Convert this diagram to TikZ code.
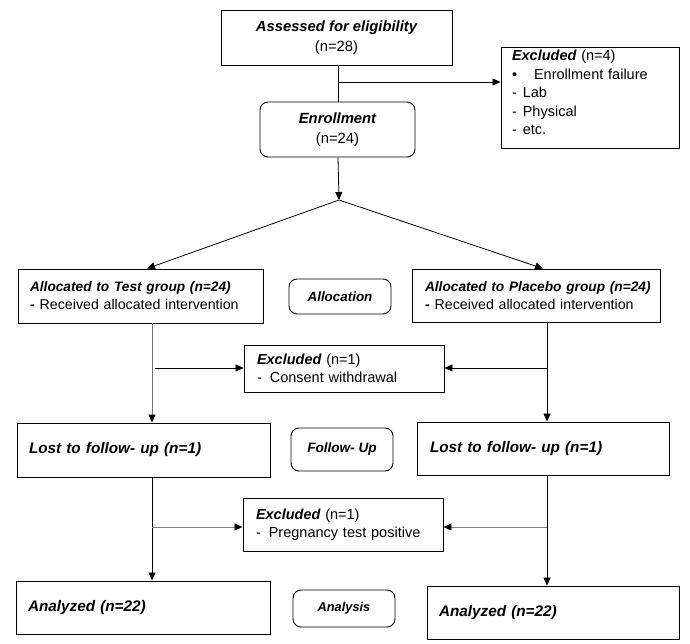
\documentclass[tikz,border=0pt]{standalone}
\usepackage{fontspec}
\setmainfont{Liberation Sans}
\usetikzlibrary{arrows.meta,calc}
\newcommand\fsz[2]{\fontsize{#1}{#2}\selectfont}
\newcommand\bfit{\bfseries\itshape}
\begin{document}
\begin{tikzpicture}[x=1pt,y=-1pt,
  lbox/.style={draw=black, line width=0.9pt, inner xsep=12pt, inner ysep=0pt, align=left},
  cbox/.style={draw=black, line width=0.9pt, inner sep=0pt, align=center},
  rbox/.style={cbox, rounded corners=8pt},
  ln/.style={line width=0.8pt, black},
  arr/.style={ln, -{Triangle[length=8pt,width=7pt]}},
  garr/.style={line width=0.8pt, draw=black!50, -{Triangle[length=8pt,width=7pt,color=black]}},
  garrv/.style={line width=0.8pt, draw=black!55, -{Triangle[length=8pt,width=7pt,color=black]}}
]
\useasboundingbox (0,0) rectangle (690,644);
\fill[white] (0,0) rectangle (690,644);

% top
\node[cbox, minimum width=231pt, minimum height=55pt, font=\fsz{14.8pt}{19.5pt}] (assess) at (336.5,37.5)
  {{\bfit Assessed for eligibility}\\ (n=28)};
\node[lbox, inner xsep=11pt, text width=156pt, minimum height=101pt, font=\fsz{14.5pt}{18.6pt}] (ex1) at (590,97.5)
  {\raisebox{5pt}[\height][\depth]{\parbox{156pt}{\raggedright
   {\bfit Excluded} (n=4)\\
   •\hspace{17pt}Enrollment failure\\
   -\hspace{6pt}Lab\\
   -\hspace{6pt}Physical\\
   -\hspace{6pt}etc.}}};
\node[rbox, minimum width=155pt, minimum height=55pt, font=\fsz{14.8pt}{19.5pt}] (enroll) at (337.5,129.5)
  {{\bfit Enrollment}\\ (n=24)};

% allocation row
\node[lbox, text width=221pt, minimum height=54pt, font=\fsz{14.2pt}{18pt}] (test) at (140.5,296)
  {\mbox{\bfit\fsz{13.7pt}{18pt}Allocated to Test group (n=24)}\\
   \textbf{-}\hspace{5pt}Received allocated intervention};
\node[rbox, minimum width=102pt, minimum height=35pt, font=\fsz{13.4pt}{16pt}\bfit] (alloc) at (340,296.5)
  {Allocation};
\node[lbox, inner xsep=13pt, text width=222pt, minimum height=53pt, font=\fsz{14.2pt}{18pt}] (plac) at (536,295.5)
  {\mbox{\bfit\fsz{13.7pt}{18pt}Allocated to Placebo group (n=24)}\\
   \textbf{-}\hspace{5pt}Received allocated intervention};

\node[lbox, inner xsep=13pt, text width=174pt, minimum height=47pt, font=\fsz{14.5pt}{18pt}] (ex2) at (344,368.5)
  {{\bfit Excluded} (n=1)\\
   -\hspace{8pt}Consent withdrawal};

% follow-up row
\node[lbox, text width=229pt, minimum height=54pt, font=\fsz{15.3pt}{18pt}\bfit] (lost1) at (143.5,450)
  {Lost to follow- up (n=1)};
\node[rbox, minimum width=102pt, minimum height=43pt, font=\fsz{13.6pt}{16pt}\bfit] (fu) at (342,449.5)
  {\raisebox{3pt}{Follow- Up}};
\node[lbox, inner xsep=13pt, text width=226pt, minimum height=53pt, font=\fsz{15.3pt}{18pt}\bfit] (lost2) at (543,448.5)
  {Lost to follow- up (n=1)};

\node[lbox, inner xsep=13pt, text width=174pt, minimum height=53pt, font=\fsz{14.5pt}{18.5pt}] (ex3) at (343,524.5)
  {{\bfit Excluded} (n=1)\\
   -\hspace{8pt}Pregnancy test positive};

% analysis row
\node[lbox, text width=230pt, minimum height=53pt, font=\fsz{15.3pt}{18pt}\bfit] (an1) at (143,607.5)
  {Analyzed (n=22)};
\node[rbox, minimum width=102pt, minimum height=37pt, font=\fsz{12.8pt}{16pt}\bfit] (anl) at (344,608.5)
  {Analysis};
\node[lbox, text width=228pt, minimum height=53pt, font=\fsz{15.3pt}{18pt}\bfit] (an2) at (553,612.5)
  {Analyzed (n=22)};

% helper coordinates
\coordinate (C) at (338,0);
\coordinate (j1) at (338,82);
\coordinate (split) at (339,200);
\coordinate (tl) at (147,0);
\coordinate (tr) at (543,0);
\coordinate (L) at (152,0);
\coordinate (R) at (547,0);
\coordinate (h1) at (155,368);
\coordinate (h2) at (547,368);
\coordinate (h3) at (152,527);
\coordinate (h4) at (547,527);

% connectors
\draw[ln] (assess.south -| C) -- (enroll.north -| C);
\draw[arr] (j1) -- (j1 -| ex1.west);
\draw[arr] (enroll.south -| C) -- (split);
\draw[arr] (split) -- (test.north -| tl);
\draw[arr] (split) -- (plac.north -| tr);

\draw[garrv] (test.south -| L) -- (lost1.north -| L);
\draw[arr] (h1) -- (h1 -| ex2.west);
\draw[arr] (plac.south -| R) -- (lost2.north -| R);
\draw[arr] (h2) -- (h2 -| ex2.east);

\draw[arr] (lost1.south -| L) -- (an1.north -| L);
\draw[garr] (h3) -- (h3 -| ex3.west);
\draw[arr] (lost2.south -| R) -- (an2.north -| R);
\draw[garr] (h4) -- (h4 -| ex3.east);
\end{tikzpicture}
\end{document}
